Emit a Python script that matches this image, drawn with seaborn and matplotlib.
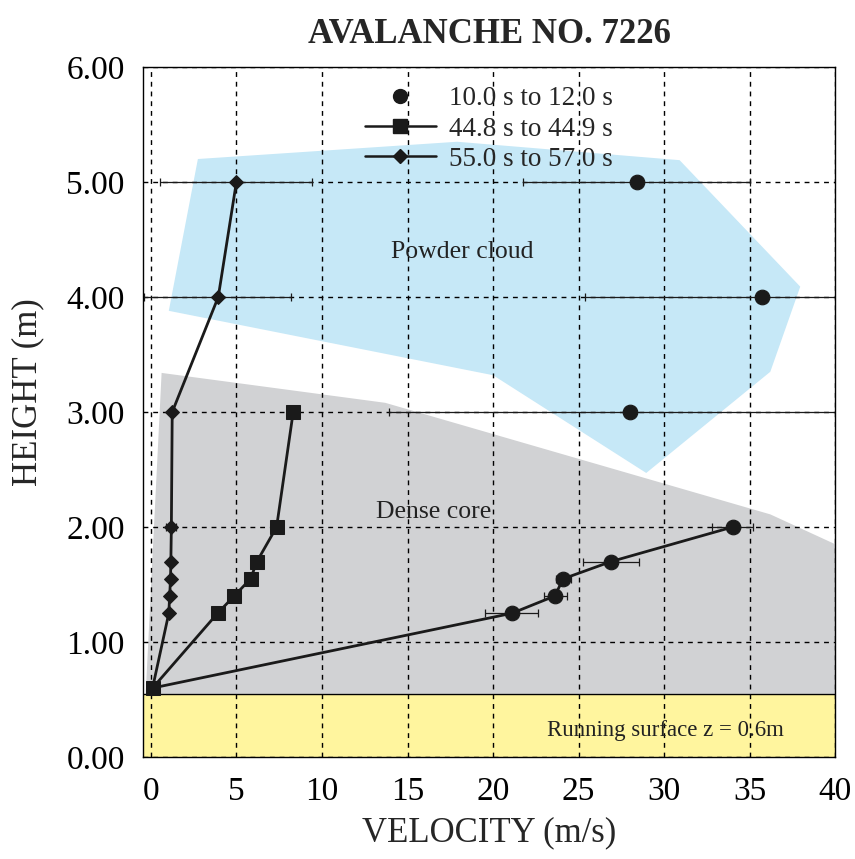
import matplotlib
matplotlib.use("Agg")
import matplotlib.pyplot as plt
from matplotlib.lines import Line2D
import seaborn as sns
import pandas as pd

# base point shared by all profiles (running surface)
base_v = 0.1
base_h = 0.6

# 10.0 s to 12.0 s (circles)
circ_h = [1.25, 1.4, 1.55, 1.7, 2.0, 3.0, 4.0, 5.0]
circ_v = [21.1, 23.6, 24.1, 26.9, 34.0, 28.0, 35.7, 28.4]
circ_lo = [19.5, 22.95, 23.7, 25.25, 32.8, 13.9, 25.35, 21.75]
circ_hi = [22.6, 24.3, 24.55, 28.55, 35.2, 45.0, 45.0, 35.0]
n_connected = 5  # lower points joined by a line

# 44.8 s to 44.9 s (squares)
sq_h = [0.6, 1.25, 1.4, 1.55, 1.7, 2.0, 3.0]
sq_v = [0.1, 3.9, 4.87, 5.83, 6.2, 7.35, 8.32]

# 55.0 s to 57.0 s (diamonds)
dia_h = [0.6, 1.25, 1.4, 1.55, 1.7, 2.0, 3.0, 4.0, 5.0]
dia_v = [0.1, 1.05, 1.1, 1.15, 1.17, 1.2, 1.25, 3.94, 5.0]
dia_err_h = [2.0, 4.0, 5.0]
dia_err_v = [1.2, 3.94, 5.0]
dia_err_lo = [0.9, -0.4, 0.53]
dia_err_hi = [1.5, 8.17, 9.43]

# regions
powder_v = [2.75, 17.9, 30.9, 37.95, 36.2, 28.95, 20.0, 1.05]
powder_h = [5.20, 5.35, 5.19, 4.09, 3.35, 2.47, 3.32, 3.88]
core_v = [0.63, 13.7, 36.2, 40.0, 40.0, -0.3]
core_h = [3.34, 3.08, 2.11, 1.85, 0.55, 0.55]
surface_top = 0.55

labels = ["10.0 s to 12.0 s", "44.8 s to 44.9 s", "55.0 s to 57.0 s"]

sns.set_style("white")
plt.rcParams["font.family"] = ["Liberation Serif", "DejaVu Serif"]
plt.rcParams["axes.edgecolor"] = "black"

fig = plt.figure(figsize=(8.55, 8.59), dpi=100)
ax = fig.add_axes([0.167, 0.1187, 0.81, 0.8033])

ax.fill(powder_v, powder_h, color="#c6e8f7", lw=0, zorder=0.8)
ax.fill(core_v, core_h, color="#d1d2d4", lw=0, zorder=0.8)
ax.axhspan(0, surface_top, color="#fff59e", lw=0, zorder=0.8)
ax.axhline(surface_top, color="black", lw=1, zorder=1.2)

ink = "#1a1a1a"

# error bars
ax.errorbar(circ_v, circ_h,
            xerr=[[v - lo for v, lo in zip(circ_v, circ_lo)],
                  [hi - v for v, hi in zip(circ_v, circ_hi)]],
            fmt="none", ecolor=ink, elinewidth=0.9, capsize=3, capthick=0.9, zorder=2)
ax.errorbar(dia_err_v, dia_err_h,
            xerr=[[v - lo for v, lo in zip(dia_err_v, dia_err_lo)],
                  [hi - v for v, hi in zip(dia_err_v, dia_err_hi)]],
            fmt="none", ecolor=ink, elinewidth=0.9, capsize=3, capthick=0.9, zorder=2)

# profiles
circ_line = pd.DataFrame({"v": [base_v] + circ_v[:n_connected],
                          "h": [base_h] + circ_h[:n_connected]})
sns.lineplot(data=circ_line, x="v", y="h", sort=False, estimator=None,
             color=ink, lw=2, ax=ax, zorder=3)
sns.scatterplot(x=circ_v, y=circ_h, color=ink, marker="o", s=110,
                edgecolor=ink, ax=ax, zorder=4)

dia_df = pd.DataFrame({"v": dia_v, "h": dia_h})
sns.lineplot(data=dia_df, x="v", y="h", sort=False, estimator=None,
             color=ink, lw=2, marker="D", markersize=7, markeredgecolor=ink,
             ax=ax, zorder=3)

sq_df = pd.DataFrame({"v": sq_v, "h": sq_h})
sns.lineplot(data=sq_df, x="v", y="h", sort=False, estimator=None,
             color=ink, lw=2, marker="s", markersize=10, markeredgecolor=ink,
             ax=ax, zorder=3)

# text
ax.text(18.2, 4.39, "Powder cloud", fontsize=18.5, ha="center", va="center", color="#222222")
ax.text(16.5, 2.13, "Dense core", fontsize=18.5, ha="center", va="center", color="#222222")
ax.text(30.05, 0.235, "Running surface z = 0.6m", fontsize=16.5, ha="center", va="center",
        color="#222222")

ax.set_xlim(-0.47, 40)
ax.set_ylim(0, 6)
ax.set_xticks(range(0, 41, 5))
ax.set_yticks([0, 1, 2, 3, 4, 5, 6])
ax.set_yticklabels([f"{t:.2f}" for t in range(7)])
ax.tick_params(axis="both", labelsize=24, direction="in", length=4, width=0.8,
               colors="black")
ax.tick_params(axis="y", pad=13)
ax.tick_params(axis="x", pad=14)
ax.grid(True, color="black", lw=1, linestyle=(0, (3.5, 3.5)))
ax.set_axisbelow("line")
for sp in ax.spines.values():
    sp.set_visible(True)
    sp.set_linewidth(1)
    sp.set_color("black")

ax.set_xlabel("VELOCITY (m/s)", fontsize=25, labelpad=7)
ax.set_ylabel("HEIGHT (m)", fontsize=25)
ax.yaxis.set_label_coords(-0.142, 0.529)
ax.set_title("AVALANCHE NO. 7226", fontsize=25, fontweight="bold", pad=17)

handles = [
    Line2D([], [], color=ink, lw=0, marker="o", markersize=10),
    Line2D([], [], color=ink, lw=1.8, marker="s", markersize=10),
    Line2D([], [], color=ink, lw=1.8, marker="D", markersize=7),
]
leg = ax.legend(handles, labels, loc="upper center", bbox_to_anchor=(0.5, 0.988),
                frameon=False, fontsize=19.5, handlelength=2.6, handletextpad=0.5,
                labelspacing=0.2, borderaxespad=0)

fig.savefig("out.png", dpi=100)
